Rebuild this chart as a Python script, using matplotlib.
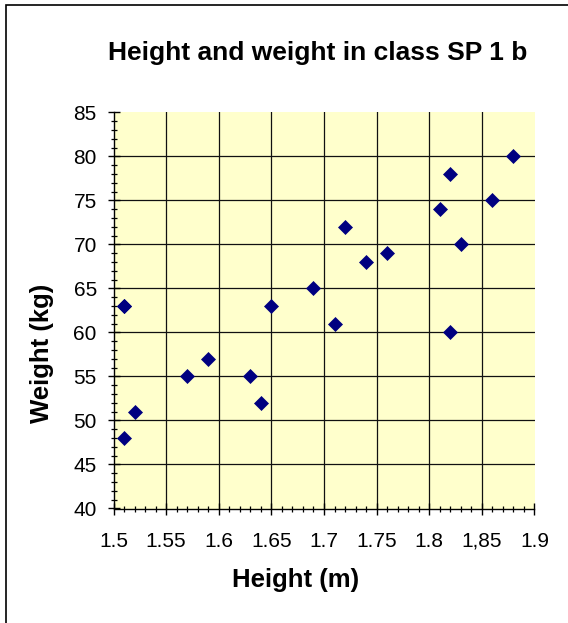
import matplotlib
matplotlib.use("Agg")
import matplotlib.pyplot as plt
from matplotlib.patches import Rectangle
from matplotlib.ticker import MultipleLocator

W, H = 568, 623

heights = [1.51, 1.52, 1.51, 1.57, 1.59, 1.63, 1.64, 1.65, 1.69, 1.71,
           1.72, 1.74, 1.76, 1.81, 1.82, 1.83, 1.82, 1.86, 1.88, 1.51]
weights = [63, 51, 48, 55, 57, 55, 52, 63, 65, 61,
           72, 68, 69, 74, 78, 70, 60, 75, 80, 63]

x_ticks = [1.5, 1.55, 1.6, 1.65, 1.7, 1.75, 1.8, 1.85, 1.9]
x_tick_labels = ["1.5", "1.55", "1.6", "1.65", "1.7", "1.75", "1.8", "1,85", "1.9"]
y_ticks = [40, 45, 50, 55, 60, 65, 70, 75, 80, 85]

TITLE = "Height and weight in class SP 1 b"
XLABEL = "Height (m)"
YLABEL = "Weight (kg)"

plt.rcParams["font.family"] = ["Liberation Sans", "DejaVu Sans"]

fig = plt.figure(figsize=(W / 100, H / 100), dpi=100)
fig.patch.set_facecolor("white")

# outer chart border (only left/top visible in the reference)
fig.patches.append(Rectangle((6 / W, -0.02), 1.1, 1 - 5 / H + 0.02,
                             transform=fig.transFigure, fill=False,
                             edgecolor="black", linewidth=1.2))

ax = fig.add_axes([113.5 / W, 1 - 508.5 / H, 421 / W, 396 / H])
ax.set_facecolor("#FFFFCC")

ax.set_xlim(1.5, 1.9)
ax.set_ylim(40, 85)
ax.set_xticks(x_ticks)
ax.set_xticklabels(x_tick_labels)
ax.set_yticks(y_ticks)
ax.xaxis.set_minor_locator(MultipleLocator(0.01))
ax.yaxis.set_minor_locator(MultipleLocator(1))

ax.grid(True, which="major", color="#111111", linewidth=0.9)
ax.set_axisbelow(True)
for gl, t in zip(ax.get_xgridlines(), x_ticks):
    if t in (1.5, 1.9):
        gl.set_visible(False)
for gl, t in zip(ax.get_ygridlines(), y_ticks):
    if t in (40, 85):
        gl.set_visible(False)

for side in ("top", "right"):
    ax.spines[side].set_visible(False)
for side in ("left", "bottom"):
    ax.spines[side].set_color("black")
    ax.spines[side].set_linewidth(1.0)

ax.tick_params(which="major", direction="inout", length=8, width=1.0,
               labelsize=15, colors="black")
ax.tick_params(which="minor", direction="inout", length=5, width=0.9)
ax.tick_params(axis="x", which="major", pad=23.5)
ax.tick_params(axis="y", which="major", pad=8)
for lbl in ax.get_xticklabels():
    lbl.set_verticalalignment("baseline")

ax.plot(heights, weights, linestyle="none", marker="D", markersize=7,
        markerfacecolor="#000080", markeredgecolor="#000080",
        markeredgewidth=0.5, clip_on=False)

fig.text(318 / W, 1 - 60 / H, TITLE, ha="center", va="baseline",
         fontsize=19, fontweight="bold")
fig.text(296 / W, 1 - 580 / H, XLABEL, ha="center", va="center",
         fontsize=18.5, fontweight="bold")
fig.text(41.5 / W, 1 - 353 / H, YLABEL, ha="center", va="center",
         rotation=90, fontsize=18.5, fontweight="bold")

fig.savefig("out.png", dpi=100)
